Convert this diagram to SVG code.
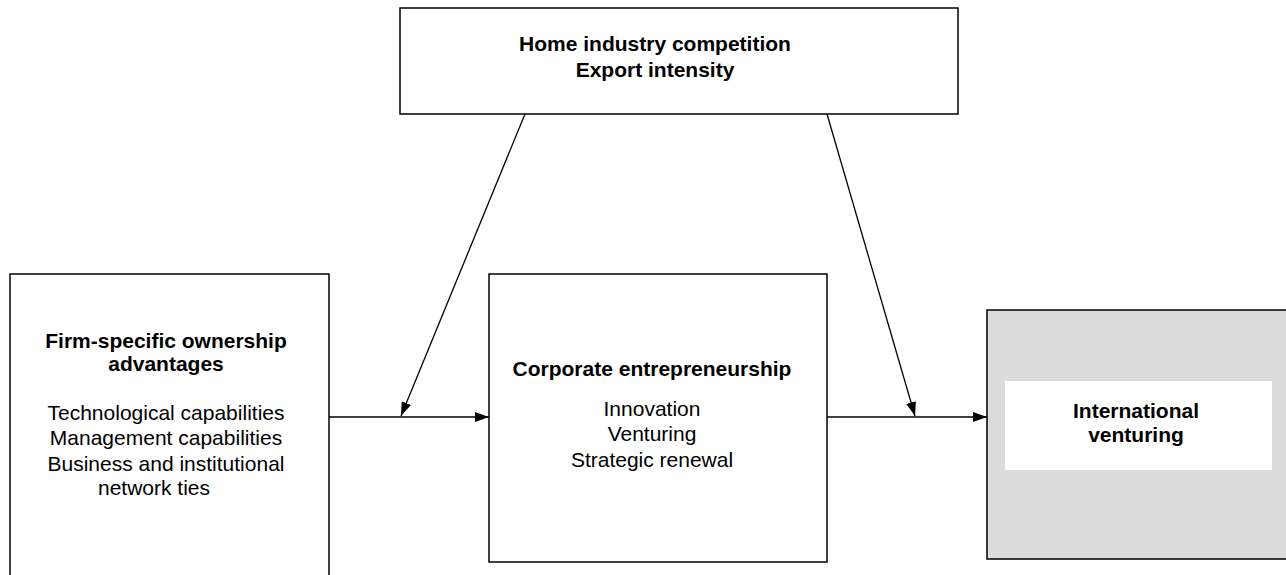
<svg xmlns="http://www.w3.org/2000/svg" width="1286" height="575" viewBox="0 0 1286 575">
  <style>
    .box { fill: #ffffff; stroke: #000000; stroke-width: 1.5; }
    .shaded { fill: #dcdcdc; stroke: #000000; stroke-width: 1.5; }
    .inner { fill: #ffffff; stroke: none; }
    .link { fill: none; stroke: #000000; stroke-width: 1.3; marker-end: url(#arrow); }
    text { font-family: "Liberation Sans", Arial, sans-serif; font-size: 21px; fill: #000000; text-anchor: middle; }
    .b { font-weight: bold; }
  </style>
  <defs>
    <marker id="arrow" viewBox="0 0 14 10" refX="14" refY="5" markerWidth="14" markerHeight="10" markerUnits="userSpaceOnUse" orient="auto">
      <path d="M0,0 L14,5 L0,10 Z" fill="#000000"/>
    </marker>
  </defs>

  <rect width="1286" height="575" fill="#ffffff"/>

  <g id="moderators">
    <rect class="box" x="400" y="8" width="558" height="106"/>
    <text class="b" x="655" y="51">Home industry competition</text>
    <text class="b" x="655" y="77">Export intensity</text>
  </g>

  <g id="ownership-advantages">
    <rect class="box" x="10" y="274" width="319" height="310"/>
    <text class="b" x="166" y="348">Firm-specific ownership</text>
    <text class="b" x="166" y="371">advantages</text>
    <text x="166" y="420">Technological capabilities</text>
    <text x="166" y="445">Management capabilities</text>
    <text x="166" y="471">Business and institutional</text>
    <text x="154" y="495">network ties</text>
  </g>

  <g id="corporate-entrepreneurship">
    <rect class="box" x="489" y="274" width="338" height="288"/>
    <text class="b" x="652" y="376">Corporate entrepreneurship</text>
    <text x="652" y="416">Innovation</text>
    <text x="652" y="441">Venturing</text>
    <text x="652" y="467">Strategic renewal</text>
  </g>

  <g id="international-venturing">
    <rect class="shaded" x="987" y="310" width="310" height="249"/>
    <rect class="inner" x="1005" y="381" width="267" height="89"/>
    <text class="b" x="1136" y="418">International</text>
    <text class="b" x="1136" y="442">venturing</text>
  </g>

  <g id="connectors">
    <line class="link" x1="329" y1="417" x2="489" y2="417"/>
    <line class="link" x1="827" y1="417" x2="987" y2="417"/>
    <line class="link" x1="525" y1="114" x2="401" y2="416"/>
    <line class="link" x1="827" y1="114" x2="915" y2="416"/>
  </g>
</svg>
